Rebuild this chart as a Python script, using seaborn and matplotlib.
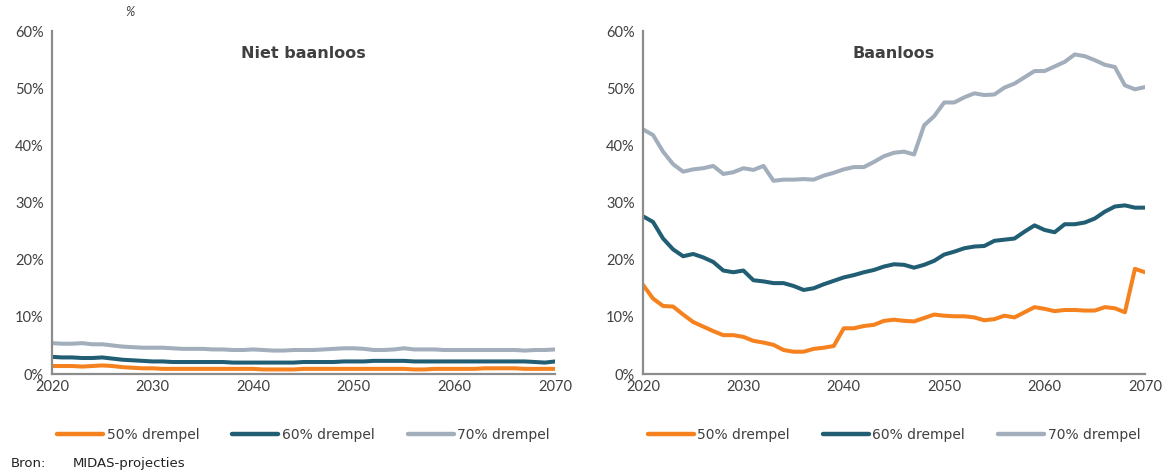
import numpy as np
import pandas as pd
import matplotlib
matplotlib.use("Agg")
import matplotlib.pyplot as plt
import seaborn as sns

years = list(range(2020, 2071))

# Niet baanloos (%)
niet_50 = [1.4, 1.4, 1.4, 1.3, 1.4, 1.5, 1.4, 1.2, 1.1, 1.0, 1.0, 0.9, 0.9, 0.9, 0.9, 0.9, 0.9,
           0.9, 0.9, 0.9, 0.9, 0.8, 0.8, 0.8, 0.8, 0.9, 0.9, 0.9, 0.9, 0.9, 0.9, 0.9, 0.9, 0.9,
           0.9, 0.9, 0.8, 0.8, 0.9, 0.9, 0.9, 0.9, 0.9, 1.0, 1.0, 1.0, 1.0, 0.9, 0.9, 0.9, 0.9]
niet_60 = [3.0, 2.9, 2.9, 2.8, 2.8, 2.9, 2.7, 2.5, 2.4, 2.3, 2.2, 2.2, 2.1, 2.1, 2.1, 2.1, 2.1,
           2.1, 2.0, 2.0, 2.0, 2.0, 2.0, 2.0, 2.0, 2.1, 2.1, 2.1, 2.1, 2.2, 2.2, 2.2, 2.3, 2.3,
           2.3, 2.3, 2.2, 2.2, 2.2, 2.2, 2.2, 2.2, 2.2, 2.2, 2.2, 2.2, 2.2, 2.2, 2.1, 2.0, 2.2]
niet_70 = [5.4, 5.3, 5.3, 5.4, 5.2, 5.2, 5.0, 4.8, 4.7, 4.6, 4.6, 4.6, 4.5, 4.4, 4.4, 4.4, 4.3,
           4.3, 4.2, 4.2, 4.3, 4.2, 4.1, 4.1, 4.2, 4.2, 4.2, 4.3, 4.4, 4.5, 4.5, 4.4, 4.2, 4.2,
           4.3, 4.5, 4.3, 4.3, 4.3, 4.2, 4.2, 4.2, 4.2, 4.2, 4.2, 4.2, 4.2, 4.1, 4.2, 4.2, 4.3]

# Baanloos (%)
baan_50 = [15.6, 13.2, 11.9, 11.8, 10.4, 9.1, 8.3, 7.5, 6.8, 6.8, 6.5, 5.8, 5.5, 5.1, 4.2, 3.9,
           3.9, 4.4, 4.6, 4.9, 8.0, 8.0, 8.4, 8.6, 9.3, 9.5, 9.3, 9.2, 9.8, 10.4, 10.2, 10.1,
           10.1, 9.9, 9.4, 9.6, 10.2, 9.9, 10.8, 11.7, 11.4, 11.0, 11.2, 11.2, 11.1, 11.1, 11.7,
           11.5, 10.8, 18.4, 17.8]
baan_60 = [27.6, 26.6, 23.7, 21.8, 20.6, 21.0, 20.4, 19.6, 18.1, 17.8, 18.1, 16.4, 16.2, 15.9,
           15.9, 15.4, 14.7, 15.0, 15.7, 16.3, 16.9, 17.3, 17.8, 18.2, 18.8, 19.2, 19.1, 18.6,
           19.1, 19.8, 20.9, 21.4, 22.0, 22.3, 22.4, 23.3, 23.5, 23.7, 24.9, 26.0, 25.2, 24.8,
           26.2, 26.2, 26.5, 27.2, 28.4, 29.3, 29.5, 29.1, 29.1]
baan_70 = [42.8, 41.8, 38.9, 36.7, 35.4, 35.8, 36.0, 36.4, 35.0, 35.3, 36.0, 35.7, 36.4, 33.8,
           34.0, 34.0, 34.1, 34.0, 34.7, 35.2, 35.8, 36.2, 36.2, 37.1, 38.1, 38.7, 38.9, 38.4,
           43.5, 45.1, 47.5, 47.5, 48.4, 49.1, 48.8, 48.9, 50.1, 50.8, 51.9, 53.0, 53.0, 53.8,
           54.6, 55.9, 55.6, 54.9, 54.1, 53.7, 50.5, 49.8, 50.2]

series_names = ["50% drempel", "60% drempel", "70% drempel"]
panel_titles = ["Niet baanloos", "Baanloos"]
x_ticks = [2020, 2030, 2040, 2050, 2060, 2070]
y_ticks = [0, 10, 20, 30, 40, 50, 60]

colors = {"50% drempel": "#F5821F", "60% drempel": "#215E74", "70% drempel": "#A2AEBB"}


def long_frame(values):
    rows = []
    for name, vals in zip(series_names, values):
        for yr, v in zip(years, vals):
            rows.append({"jaar": yr, "waarde": v, "reeks": name})
    return pd.DataFrame(rows)


panels = [long_frame([niet_50, niet_60, niet_70]),
          long_frame([baan_50, baan_60, baan_70])]

sns.set_theme(style="white")
plt.rcParams["font.family"] = ["Lato", "DejaVu Sans"]

fig = plt.figure(figsize=(11.68, 4.75), dpi=100)
axes_pos = [[0.0445, 0.2126, 0.4307, 0.7221],
            [0.5505, 0.2126, 0.4298, 0.7221]]

spine_col = "#8C8C8C"
text_col = "#404040"

for pos, df, title in zip(axes_pos, panels, panel_titles):
    ax = fig.add_axes(pos)
    sns.lineplot(data=df, x="jaar", y="waarde", hue="reeks", palette=colors,
                 linewidth=2.9, ax=ax, legend=True, solid_capstyle="round")
    ax.set_xlim(2020, 2070)
    ax.set_ylim(0, 60)
    ax.set_xticks(x_ticks)
    ax.set_yticks(y_ticks)
    ax.set_yticklabels([f"{t}%" for t in y_ticks])
    ax.set_xlabel("")
    ax.set_ylabel("")
    for side in ["top", "right"]:
        ax.spines[side].set_visible(False)
    for side in ["left", "bottom"]:
        ax.spines[side].set_color(spine_col)
        ax.spines[side].set_linewidth(1.6)
    ax.tick_params(axis="both", which="both", direction="out", length=4, width=1.4,
                   color=spine_col, labelcolor=text_col, labelsize=10.5, pad=2)
    ax.tick_params(axis="x", pad=0)
    ax.set_title(title, fontsize=11.5, fontweight="bold", color=text_col, y=0.898,
                 family="DejaVu Sans")
    leg = ax.legend(loc="upper center", bbox_to_anchor=(0.5, -0.12), ncol=3, frameon=False,
                    prop={"family": "DejaVu Sans", "size": 10}, handlelength=3.3,
                    handletextpad=0.25, columnspacing=2.4, labelcolor=text_col)
    for h in leg.get_lines():
        h.set_linewidth(3.2)

fig.text(0.111, 0.975, "%", fontsize=9, color=text_col, ha="center", va="center", style="italic")
fig.text(0.009, 0.025, "Bron:", fontsize=9.5, color="#222222", ha="left", va="center",
         family="DejaVu Sans")
fig.text(0.062, 0.025, "MIDAS-projecties", fontsize=9.5, color="#222222", ha="left",
         va="center", family="DejaVu Sans")

fig.savefig("out.png", dpi=100)
